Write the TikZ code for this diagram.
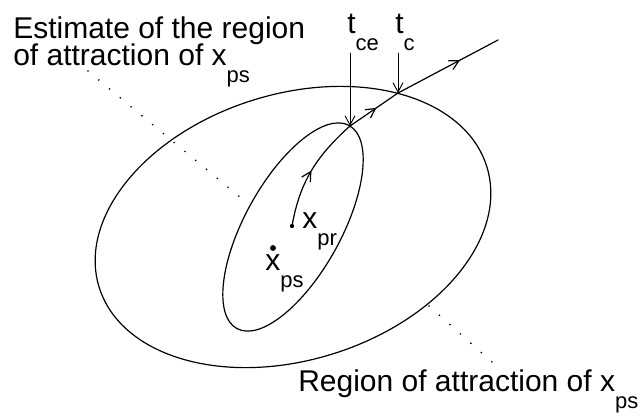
\documentclass[tikz,border=0pt]{standalone}
\usepackage{fontspec}
\setmainfont{Liberation Sans}
\usetikzlibrary{arrows.meta,decorations.markings}
\newcommand{\lowsub}[1]{\raisebox{-12.75pt}{\fontsize{16.5}{18}\selectfont #1}}

\begin{document}
\begin{tikzpicture}[x=0.75pt,y=0.75pt,line cap=round,
	lbl/.style={inner sep=0pt,anchor=base west,font=\fontsize{22.5}{27}\selectfont},
	curve/.style={line width=0.9pt},
	tarrow/.style={line width=0.7pt,shorten <=2pt,-{Straight Barb[length=7pt,width=7.5pt]}},
	midarrow/.style={postaction={decorate},decoration={markings,
		mark=at position #1 with {\arrow{Straight Barb[length=7pt,width=7.5pt]}}}},
	leader/.style={line width=1.4pt,dash pattern=on 0pt off 10.5pt,line cap=round},
	dotpt/.style={circle,fill,inner sep=0pt,minimum size=#1}]
		\useasboundingbox (0,0) rectangle (642,-415);
		% 两个区域
		\coordinate (ic) at (293,-227);
		\draw[curve,rotate around={17.3:(ic)}] (ic) ellipse [x radius=203,y radius=133];
		\draw[curve,rotate around={61:(ic)}] (ic) ellipse [x radius=116,y radius=48];
		% 平衡点
		\node[dotpt=3.2pt] (xpr) at (292,-226) {};
		\node[dotpt=4.4pt] (xps) at (273,-248) {};
		\node[lbl] (xprl) at (302,-228) {x\lowsub{pr}};
		\node[lbl] (xpsl) at (265,-270) {x\lowsub{ps}};
		% 轨线
		\coordinate (tce) at (350,-126);
		\coordinate (tc) at (398,-93);
		\coordinate (tend) at (498,-40);
		\draw[curve,midarrow=0.5] (xpr.center) to[out=80,in=222] (tce);
		\draw[curve,midarrow=0.55] (tce) -- (tc);
		\draw[curve,midarrow=0.62] (tc) -- (tend);
		% 时刻标注
		\node[lbl] (tcel) at (347,-33) {t\lowsub{ce}};
		\node[lbl] (tcl) at (395,-33) {t\lowsub{c}};
		\draw[tarrow] (tcel.south -| tce) -- (tce);
		\draw[tarrow] (tcl.south -| tc) -- (tc);
		% 文字说明
		\node[lbl,align=left] (est) at (13,-65) {Estimate of the region\\[-7pt]of attraction of x\lowsub{ps}};
		\node[lbl] (roa) at (298,-391) {Region of attraction of x\lowsub{ps}};
		\coordinate (la) at (88,-71);
		\coordinate (lb) at (247,-203);
		\coordinate (lc) at (429,-306);
		\coordinate (ld) at (501,-370);
		\draw[leader] (la) -- (lb);
		\draw[leader] (lc) -- (ld);
\end{tikzpicture}
\end{document}
